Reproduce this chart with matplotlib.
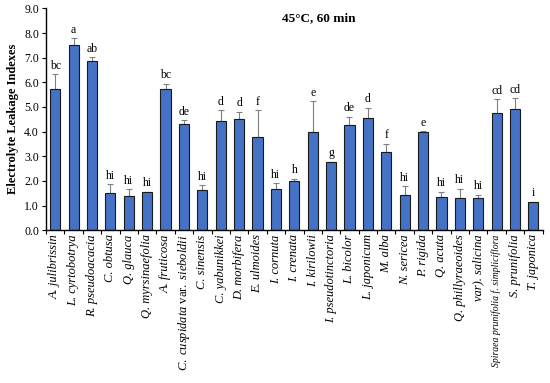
import matplotlib
matplotlib.use("Agg")
import matplotlib.pyplot as plt
import numpy as np

plt.rcParams['font.family'] = ['Liberation Serif', 'DejaVu Serif']
plt.rcParams['mathtext.fontset'] = 'custom'
plt.rcParams['mathtext.rm'] = 'Liberation Serif'
plt.rcParams['mathtext.it'] = 'Liberation Serif:italic'
plt.rcParams['mathtext.bf'] = 'Liberation Serif:bold'

species = ["A. julibrissin", "L. cyrtobotrya", "R. pseudoacacia", "C. obtusa", "Q. glauca",
           "Q. myrsinaefolia", "A. fruticosa", "C. cuspidata var. sieboldii", "C. sinensis",
           "C. yabunikkei", "D. morbifera", "E. ulmoides", "I. cornuta", "I. crenata",
           "I. kirilowii", "I. pseudotinctoria", "L. bicolor", "L. japonicum", "M. alba",
           "N. sericea", "P. rigida", "Q. acuta", "Q. phillyraeoides", "var). salicina",
           "Spiraea prunifolia f. simpliciflora", "S. prunifolia", "T. japonica"]
values = [5.75, 7.50, 6.85, 1.50, 1.38, 1.53, 5.75, 4.30, 1.63, 4.43, 4.50, 3.80, 1.66, 1.98,
          3.98, 2.75, 4.28, 4.54, 3.17, 1.42, 3.98, 1.35, 1.32, 1.31, 4.74, 4.92, 1.14]
errors = [0.58, 0.30, 0.17, 0.37, 0.29, 0.03, 0.20, 0.17, 0.19, 0.44, 0.30, 1.07, 0.24, 0.10,
          1.26, 0.02, 0.32, 0.43, 0.33, 0.37, 0.04, 0.21, 0.36, 0.12, 0.57, 0.43, 0.02]
letters = ["bc", "a", "ab", "hi", "hi", "hi", "bc", "de", "hi", "d", "d", "f", "hi", "h",
           "e", "g", "de", "d", "f", "hi", "e", "hi", "hi", "hi", "cd", "cd", "i"]

def fmt_label(s):
    if " var. " in s:
        a, b = s.split(" var. ")
        return (r"$\mathit{" + a.replace(" ", r"\ ") + r"}\ \mathrm{var.}\ \mathit{" + b + r"}$")
    return s

fig = plt.figure(figsize=(5.5, 3.83), dpi=100)
ax = fig.add_axes([0.0836, 0.399, 0.903, 0.579])

x = np.arange(len(species))
ax.bar(x, values, width=0.55, color='#4472C4', edgecolor='#1a1a1a', linewidth=0.8, zorder=2)
ax.errorbar(x, values, yerr=[np.zeros(len(errors)), errors], fmt='none', ecolor='#808080',
            elinewidth=0.8, capsize=2.2, capthick=0.8, zorder=1)
for xi, v, e, l in zip(x, values, errors, letters):
    ax.text(xi, v + e + 0.1, l, ha='center', va='bottom', fontsize=8.5)

ax.set_xlim(-0.5, len(species) - 0.5)
ax.set_ylim(0, 9)
ax.set_yticks(np.arange(0, 9.01, 1.0))
ax.set_yticklabels([f"{v:.1f}" for v in np.arange(0, 9.01, 1.0)], fontsize=8.5)
ax.set_xticks(x)
ax.set_xticklabels([fmt_label(s) for s in species], rotation=90, fontsize=9)
for lab, s in zip(ax.get_xticklabels(), species):
    if " var. " not in s:
        lab.set_style('italic')
    if s.startswith("Spiraea"):
        lab.set_fontsize(7)
ax.set_xticks(np.arange(-0.5, len(species), 1.0), minor=True)
ax.tick_params(axis='x', which='major', length=0, pad=3)
ax.tick_params(axis='x', which='minor', length=3, width=0.8, direction='out')
ax.tick_params(axis='y', length=3, width=0.8, direction='out', pad=2)

for side in ['top', 'right']:
    ax.spines[side].set_visible(False)
ax.spines['left'].set_linewidth(1.0)
ax.spines['bottom'].set_linewidth(1.0)

ax.set_ylabel("Electrolyte Leakage Indexes", fontsize=9, fontweight='bold', labelpad=4)
ax.text(0.55, 0.955, "45°C, 60 min", transform=ax.transAxes, ha='center', va='center',
        fontsize=9.5, fontweight='bold')

fig.savefig("out.png", dpi=100)
